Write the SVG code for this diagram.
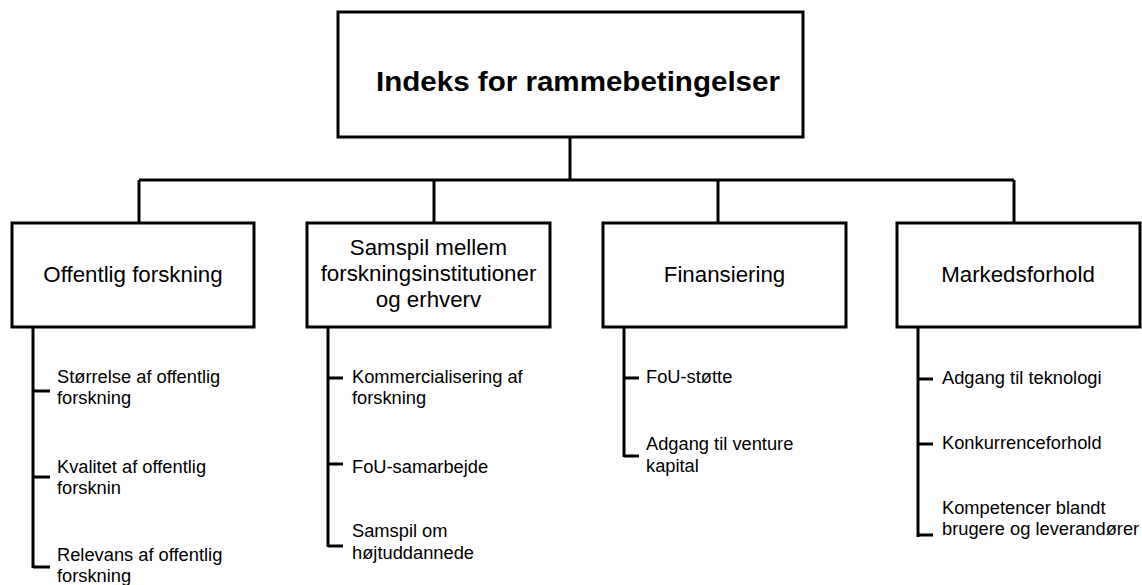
<svg xmlns="http://www.w3.org/2000/svg" width="1142" height="585" viewBox="0 0 1142 585">
<style>
.box{fill:#fff;stroke:#000;stroke-width:3}
.ln{fill:none;stroke:#000;stroke-width:3}
.t{font-family:"Liberation Sans",Arial,sans-serif;fill:#000}
.title{font-size:28px;font-weight:bold;text-anchor:middle}
.h{font-size:22.3px;text-anchor:middle}
.s{font-size:18.3px}
</style>
<rect width="1142" height="585" fill="#fff"/>
<g id="connectors">
<path class="ln" d="M570,137 V180 M139,180 H1014 M139,180 V223 M434,180 V223 M718,180 V223 M1014,180 V223"/>
<path class="ln" d="M33,327 V568 M33,391 H50 M33,477 H50 M33,567 H50"/>
<path class="ln" d="M328,327 V547 M328,378 H343 M328,464 H343 M328,546 H343"/>
<path class="ln" d="M624,327 V457 M624,378 H639 M624,456 H639"/>
<path class="ln" d="M918,327 V537 M918,379 H933 M918,444 H933 M918,535 H933"/>
</g>
<g id="root">
<rect class="box" x="338" y="12" width="465" height="125"/>
<text class="t title" x="578" y="91" textLength="404" lengthAdjust="spacingAndGlyphs">Indeks for rammebetingelser</text>
</g>
<g id="offentlig">
<rect class="box" x="12" y="223" width="242" height="104"/>
<text class="t h" x="133" y="282">Offentlig forskning</text>
</g>
<g id="samspil">
<rect class="box" x="307" y="223" width="243" height="104"/>
<text class="t h" x="428.5" y="255">Samspil mellem</text>
<text class="t h" x="428.5" y="281">forskningsinstitutioner</text>
<text class="t h" x="428.5" y="307">og erhverv</text>
</g>
<g id="finansiering">
<rect class="box" x="603" y="223" width="243" height="104"/>
<text class="t h" x="724.5" y="282">Finansiering</text>
</g>
<g id="markedsforhold">
<rect class="box" x="897" y="223" width="243" height="104"/>
<text class="t h" x="1018" y="282">Markedsforhold</text>
</g>
<g id="offentlig-items">
<text class="t s" x="57" y="383">Størrelse af offentlig</text>
<text class="t s" x="57" y="404">forskning</text>
<text class="t s" x="57" y="473">Kvalitet af offentlig</text>
<text class="t s" x="57" y="494">forsknin</text>
<text class="t s" x="57" y="561">Relevans af offentlig</text>
<text class="t s" x="57" y="582">forskning</text>
</g>
<g id="samspil-items">
<text class="t s" x="352" y="383">Kommercialisering af</text>
<text class="t s" x="352" y="404">forskning</text>
<text class="t s" x="352" y="473">FoU-samarbejde</text>
<text class="t s" x="352" y="537">Samspil om</text>
<text class="t s" x="352" y="559">højtuddannede</text>
</g>
<g id="finansiering-items">
<text class="t s" x="646" y="383">FoU-støtte</text>
<text class="t s" x="646" y="450">Adgang til venture</text>
<text class="t s" x="646" y="472">kapital</text>
</g>
<g id="markedsforhold-items">
<text class="t s" x="942" y="384">Adgang til teknologi</text>
<text class="t s" x="942" y="449">Konkurrenceforhold</text>
<text class="t s" x="942" y="514">Kompetencer blandt</text>
<text class="t s" x="942" y="535">brugere og leverandører</text>
</g>
</svg>
